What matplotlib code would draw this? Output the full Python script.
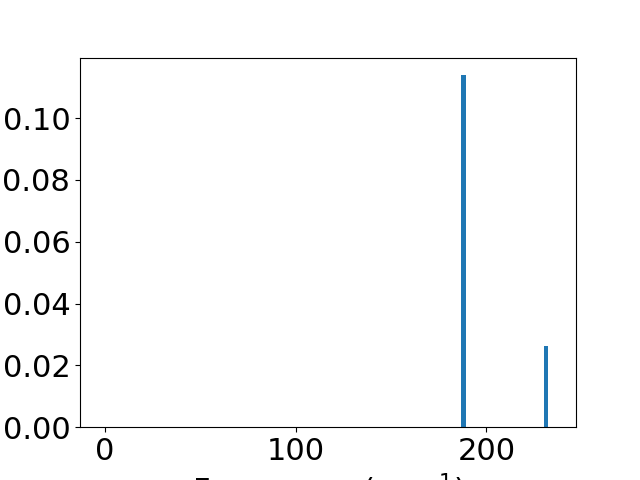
import matplotlib
matplotlib.use("Agg")
import matplotlib.pyplot as plt

frequencies = [188.0, 231.3]
intensities = [0.1139, 0.0262]

fig, ax = plt.subplots(figsize=(6.4, 4.8), dpi=100)
ax.bar(frequencies, intensities, width=2.2, color="#1f77b4")
ax.set_xlim(-13, 247)
ax.set_ylim(0, 0.1196)
ax.set_yticks([0.00, 0.02, 0.04, 0.06, 0.08, 0.10])
ax.set_yticklabels(["0.00", "0.02", "0.04", "0.06", "0.08", "0.10"])
ax.set_xticks([0, 100, 200])
ax.tick_params(labelsize=22)
ax.set_xlabel("Frequency (cm$^{-1}$)", fontsize=22)
fig.savefig("out.png", dpi=100)
